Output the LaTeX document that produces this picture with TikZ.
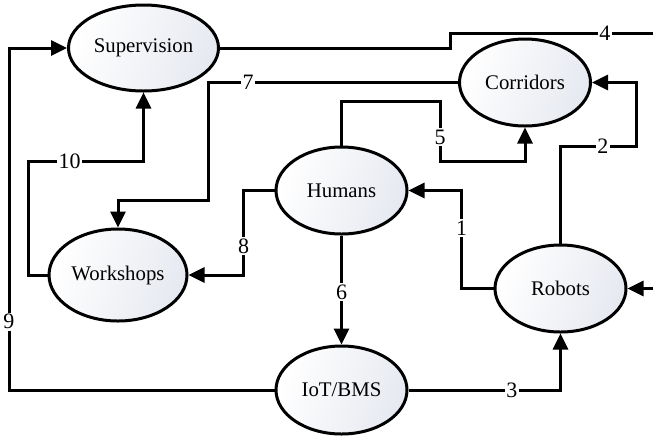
\documentclass[tikz,border=0pt]{standalone}
\usepackage{fontspec}
\setmainfont{Liberation Serif}
\usetikzlibrary{arrows.meta,shapes.geometric}

\definecolor{entfill}{RGB}{230,233,240}

\begin{document}
\begin{tikzpicture}[
        x=0.5pt, y=-0.5pt,
        % y runs downwards here, so the shading comes out mirrored
        ent/.style={ellipse, draw, line width=1.5pt, inner sep=0pt,
                    minimum width=65.5pt, minimum height=43.5pt,
                    left color=white, right color=entfill, shading angle=70,
                    font=\fontsize{10.4}{12}\selectfont},
        arrow/.style={-{Triangle[length=8pt, width=7.5pt]}, line width=1.5pt},
        lbl/.style={fill=white, inner sep=0.8pt, font=\fontsize{11}{12}\selectfont}
    ]
        \useasboundingbox (0,0) rectangle (653,435);

        \node[ent, minimum width=75pt, minimum height=43pt] (sup) at (143.5,48) {Supervision};
        \node[ent] (cor) at (525,82.5) {Corridors};
        \node[ent] (hum) at (341.5,190.5) {Humans};
        \node[ent, minimum width=69pt, minimum height=46pt] (wor) at (118,275) {Workshops};
        \node[ent] (rob) at (560.5,288.5) {Robots};
        \node[ent, minimum height=44pt] (iot) at (341.5,390) {IoT/BMS};

        \draw[arrow] (rob.west) -- ++(-32,0) |- node[lbl, pos=0.31] {1} (hum.east);
        \draw[arrow] (rob.north) |- node[lbl, pos=0.78] {2} (636,146) |- (cor.east);
        \draw[arrow] (iot.east) -| node[lbl, pos=0.34] {3} (rob.south);
        \draw[arrow] (sup.east) -| (450,33) -- node[lbl, pos=0.72] {4} (665,33) |- (rob.east);
        \draw[arrow] (hum.north) |- (440,101) -- node[lbl, pos=0.6] {5} (440,161) -| (cor.south);
        \draw[arrow] (hum.south) -- node[lbl, pos=0.52] {6} (iot.north);
        \draw[arrow] (cor.west) -| node[lbl, pos=0.42] {7} (208,200) -| (wor.north);
        \draw[arrow] (hum.west) -- ++(-31,0) |- node[lbl, pos=0.33] {8} (wor.east);
        \draw[arrow] (iot.west) -| node[lbl, pos=0.6] {9} (9,48) -- (sup.west);
        \draw[arrow] (wor.west) -| (28,161) -| node[lbl, pos=0.18] {10} (sup.south);
    \end{tikzpicture}
\end{document}
